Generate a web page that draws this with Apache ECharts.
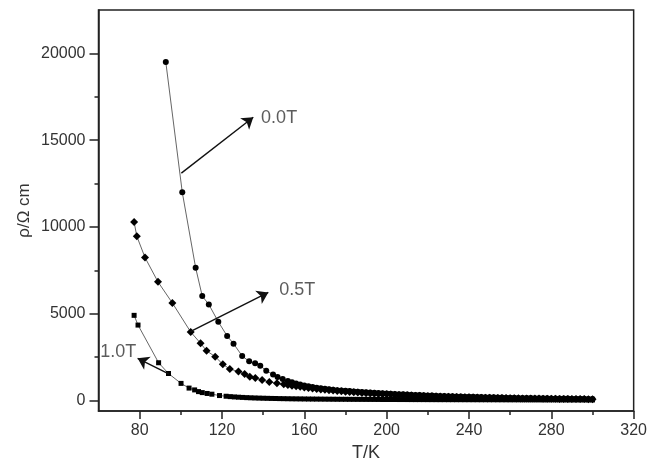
<!DOCTYPE html>
<html>
<head>
<meta charset="utf-8">
<script src="https://cdn.jsdelivr.net/npm/echarts@6/dist/echarts.min.js"></script>
<style>
  html, body { margin: 0; padding: 0; background: #fff; }
  #chart { width: 650px; height: 469px; }
</style>
</head>
<body>
<div id="chart"></div>
<script>
// Resistivity vs temperature at three applied fields

// 0.0 T (circles)
const temp00 = [92.7, 100.7, 107.2, 110.4, 113.6, 118.2, 122.5, 125.6, 129.8, 133.2, 136.1, 138.6, 141.5, 144.8, 147, 149.5,
  152, 154, 156, 158, 160, 162, 164, 166, 168, 170, 172, 174, 176, 178, 180, 182, 184, 186, 188, 190, 192, 194, 196, 198,
  200, 202, 204, 206, 208, 210, 212, 214, 216, 218, 220, 222, 224, 226, 228, 230, 232, 234, 236, 238, 240, 242, 244, 246, 248,
  250, 252, 254, 256, 258, 260, 262, 264, 266, 268, 270, 272, 274, 276, 278, 280, 282, 284, 286, 288, 290, 292, 294, 296, 298, 300];
const rho00 = [19500, 12000, 7650, 6020, 5540, 4540, 3720, 3280, 2570, 2260, 2150, 2010, 1720, 1500, 1360, 1240,
  1130, 1060, 990, 930, 870, 825, 780, 740, 705, 675, 648, 622, 600, 580, 562, 545, 528, 512, 496, 480, 465, 450, 436, 422,
  408, 395, 382, 370, 358, 347, 336, 326, 316, 306, 297, 288, 279, 271, 263, 255, 248, 241, 234, 227, 220, 214, 208, 202, 196,
  190, 185, 180, 175, 170, 165, 160, 156, 152, 148, 144, 140, 136, 132, 128, 125, 122, 119, 116, 113, 110, 107, 104, 101, 98, 95];

// 0.5 T (diamonds)
const temp05 = [77.3, 78.6, 82.6, 88.9, 95.9, 104.8, 109.6, 112.5, 116.7, 120.4, 123.8, 128, 131, 133.5, 136.2, 139.5, 143, 146.7,
  150, 152, 154, 156, 158, 160, 162, 164, 166, 168, 170, 172, 174, 176, 178, 180, 182, 184, 186, 188, 190, 192, 194, 196, 198,
  200, 202, 204, 206, 208, 210, 212, 214, 216, 218, 220, 222, 224, 226, 228, 230, 232, 234, 236, 238, 240, 242, 244, 246, 248,
  250, 252, 254, 256, 258, 260, 262, 264, 266, 268, 270, 272, 274, 276, 278, 280, 282, 284, 286, 288, 290, 292, 294, 296, 298, 300];
const rho05 = [10290, 9470, 8240, 6840, 5620, 3950, 3300, 2870, 2530, 2090, 1820, 1670, 1530, 1380, 1300, 1190, 1075, 1000,
  940, 900, 860, 825, 790, 760, 730, 700, 672, 645, 620, 596, 574, 552, 532, 512, 494, 476, 459, 443, 428, 413, 399, 385, 372,
  359, 347, 335, 324, 313, 303, 293, 283, 274, 265, 256, 248, 240, 232, 225, 218, 211, 204, 198, 192, 186, 180, 175, 170, 165,
  160, 155, 150, 146, 142, 138, 134, 130, 126, 122, 119, 116, 113, 110, 107, 104, 101, 98, 95, 93, 91, 89, 87, 85, 83, 81];

// 1.0 T (squares)
const temp10 = [77.3, 79.2, 89.2, 94, 100.1, 104, 106.7, 108.6, 110.4, 112.8, 115.1, 118.8,
  122, 124, 126, 128, 130, 132, 134, 136, 138, 140, 142, 144, 146, 148, 150, 152, 154, 156, 158, 160, 162, 164, 166, 168,
  170, 172, 174, 176, 178, 180, 182, 184, 186, 188, 190, 192, 194, 196, 198, 200, 202, 204, 206, 208, 210, 212, 214, 216,
  218, 220, 222, 224, 226, 228, 230, 232, 234, 236, 238, 240, 242, 244, 246, 248, 250, 252, 254, 256, 258, 260, 262, 264,
  266, 268, 270, 272, 274, 276, 278, 280, 282, 284, 286, 288, 290, 292, 294, 296, 298, 300];
const rho10 = [4910, 4350, 2180, 1560, 990, 720, 615, 517, 460, 410, 368, 290,
  250, 228, 210, 195, 182, 170, 160, 151, 143, 136, 130, 124, 119, 114, 110, 106, 102, 99, 96, 93, 90, 88, 86, 84,
  82, 80, 78, 76, 75, 74, 72, 71, 70, 69, 68, 67, 66, 65, 64, 63, 62, 61, 60, 60, 59, 58, 57, 57,
  56, 55, 55, 54, 53, 53, 52, 52, 51, 51, 50, 50, 49, 49, 48, 48, 47, 47, 46, 46, 45, 45, 45, 44,
  44, 44, 43, 43, 43, 42, 42, 42, 41, 41, 41, 40, 40, 40, 39, 39, 39, 38];

// Axis ticks
const xMajorTicks = [80, 120, 160, 200, 240, 280, 320];
const xMinorTicks = [100, 140, 180, 220, 260, 300];
const yMajorTicks = [0, 5000, 10000, 15000, 20000];
const yMinorTicks = [2500, 7500, 12500, 17500];

// Field labels with arrow start / tip positions
const fieldNames = ['0.0T', '0.5T', '1.0T'];
const arrowFrom = [[100.25, 13100], [104.6, 3966], [94.1, 1534]];
const arrowTo = [[135.2, 16320], [142.5, 6230], [79.0, 2437]];
const labelAt = [[139.0, 16300], [147.8, 6360], [78.3, 2770]];

const pairs = (xs, ys) => xs.map((x, i) => [x, ys[i]]);

const FONT = 'Liberation Sans, Arial, sans-serif';
const INK = '#222';
const TXT = '#333';

const chart = echarts.init(document.getElementById('chart'), null, { renderer: 'canvas' });

const xRange = { min: 60, max: 320 };
const yRange = { min: -600, max: 22500 };
const plain = v => String(v);

function lineSeries(name, xs, ys, symbol, size) {
  return {
    name, type: 'line', xAxisIndex: 0, yAxisIndex: 0,
    data: pairs(xs, ys),
    symbol, symbolSize: size, showSymbol: true,
    lineStyle: { color: '#666', width: 1 },
    itemStyle: { color: '#000' },
    animation: false, silent: true, z: 3
  };
}

const arrowLines = fieldNames.map((n, i) => [
  { coord: arrowFrom[i], symbol: 'none' },
  { coord: arrowTo[i], symbol: 'arrow' }
]);

chart.setOption({
  backgroundColor: '#fff',
  animation: false,
  grid: {
    left: 98.5, right: 14, top: 10, bottom: 58,
    show: true, borderColor: INK, borderWidth: 1.5, backgroundColor: 'transparent'
  },
  xAxis: [
    {
      type: 'value', ...xRange, position: 'bottom',
      name: 'T/K', nameLocation: 'middle', nameGap: 26,
      nameTextStyle: { fontFamily: FONT, fontSize: 18, color: TXT },
      axisLine: { show: true, onZero: false, lineStyle: { color: INK, width: 1.5 } },
      axisTick: { show: true, customValues: xMajorTicks, length: 8, lineStyle: { color: INK, width: 1.5 } },
      axisLabel: { show: true, customValues: xMajorTicks, formatter: plain, margin: 12, fontFamily: FONT, fontSize: 16, color: TXT },
      splitLine: { show: false }
    },
    {
      type: 'value', ...xRange, position: 'bottom', offset: 0,
      axisLine: { show: false, onZero: false },
      axisTick: { show: true, customValues: xMinorTicks, length: 4, lineStyle: { color: INK, width: 1.5 } },
      axisLabel: { show: false },
      splitLine: { show: false }
    }
  ],
  yAxis: [
    {
      type: 'value', ...yRange, position: 'left',
      name: 'ρ/Ω cm', nameLocation: 'middle', nameGap: 66, nameRotate: 90, nameMoveOverlap: false,
      nameTextStyle: { fontFamily: FONT, fontSize: 17, color: TXT },
      axisLine: { show: true, onZero: false, lineStyle: { color: INK, width: 1.5 } },
      axisTick: { show: true, customValues: yMajorTicks, length: 9, lineStyle: { color: INK, width: 1.5 } },
      axisLabel: { show: true, customValues: yMajorTicks, formatter: plain, margin: 13, fontFamily: FONT, fontSize: 16, color: TXT },
      splitLine: { show: false }
    },
    {
      type: 'value', ...yRange, position: 'left', offset: 0,
      axisLine: { show: false, onZero: false },
      axisTick: { show: true, customValues: yMinorTicks, length: 4, lineStyle: { color: INK, width: 1.5 } },
      axisLabel: { show: false },
      splitLine: { show: false }
    }
  ],
  series: [
    lineSeries('0.0T', temp00, rho00, 'circle', 6),
    lineSeries('0.5T', temp05, rho05, 'diamond', 8),
    lineSeries('1.0T', temp10, rho10, 'rect', 5),
    {
      name: 'field labels', type: 'scatter', xAxisIndex: 0, yAxisIndex: 0,
      symbolSize: 0, silent: true, z: 5,
      data: labelAt.map((p, i) => ({
        value: p,
        label: {
          show: true, formatter: fieldNames[i],
          position: i === 2 ? 'left' : 'right', distance: 0,
          fontFamily: FONT, fontSize: 18, color: TXT
        }
      })),
      markLine: {
        silent: true, animation: false,
        symbolSize: 11,
        lineStyle: { color: '#111', width: 1.4, type: 'solid' },
        label: { show: false },
        data: arrowLines
      }
    }
  ]
});
</script>
</body>
</html>
